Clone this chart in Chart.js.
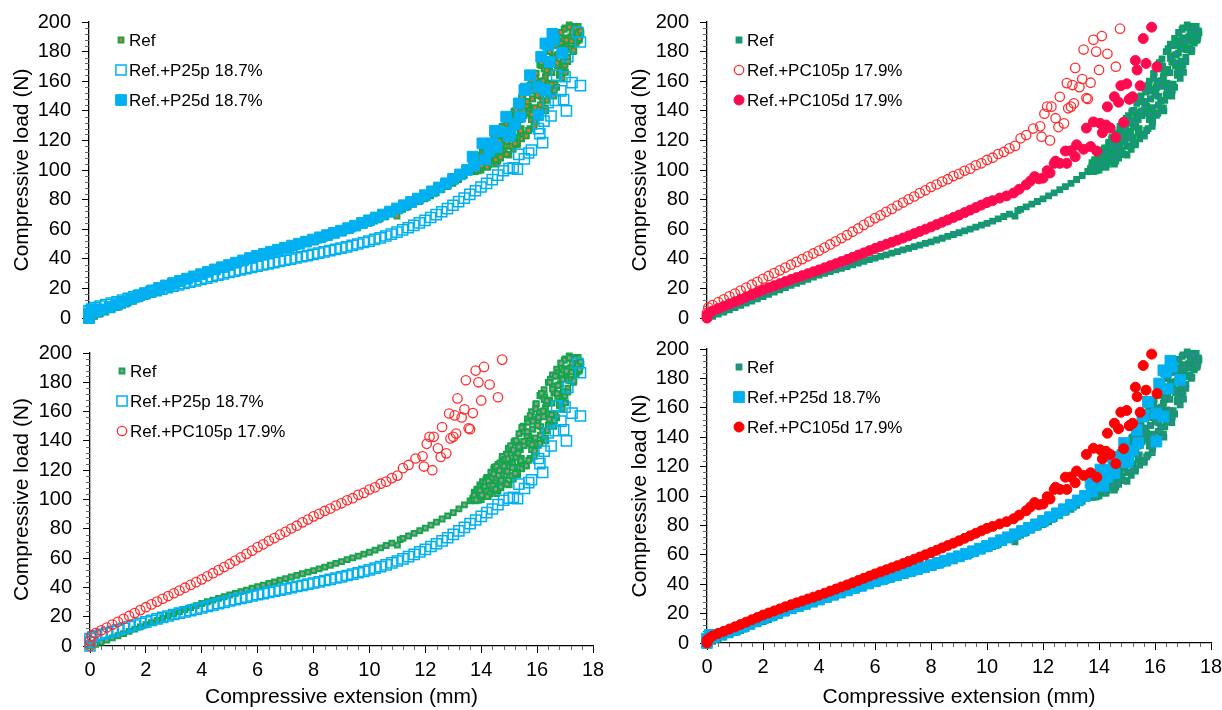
<!DOCTYPE html>
<html lang="en">
<head>
<meta charset="UTF-8">
<meta name="viewport" content="width=device-width, initial-scale=1.0">
<title>Compressive load vs compressive extension</title>
<style>
  body { margin: 0; background: #fff; }
  #figure { position: relative; width: 1222px; height: 710px; overflow: hidden; }
  #figure canvas { position: absolute; }
</style>
</head>
<body>
<div id="figure">
  <canvas id="panelTL" width="611" height="330" style="left:0;top:0"></canvas>
  <canvas id="panelTR" width="604" height="330" style="left:618px;top:0"></canvas>
  <canvas id="panelBL" width="611" height="380" style="left:0;top:330px"></canvas>
  <canvas id="panelBR" width="604" height="380" style="left:618px;top:330px"></canvas>
</div>

<script src="https://cdn.jsdelivr.net/npm/chart.js@4.4.1/dist/chart.umd.min.js"></script>
<script>
// axis text and ticks
const xTitle = 'Compressive extension (mm)';
const yTitle = 'Compressive load (N)';
const xTicks = [0, 2, 4, 6, 8, 10, 12, 14, 16, 18];
const yTicks = [0, 20, 40, 60, 80, 100, 120, 140, 160, 180, 200];
const xMinorStep = 0.4;
const yMinorStep = 4;

// series names
const refName = 'Ref';
const p25pName = 'Ref.+P25p 18.7%';
const p25dName = 'Ref.+P25d 18.7%';
const pc105pName = 'Ref.+PC105p 17.9%';
const pc105dName = 'Ref.+PC105d 17.9%';

// [extension mm, load N]
const refPts = [
  [0,0],[0.2,1.2],[0.4,2.6],[0.6,4],[0.8,5.5],[1,7],[1.2,8.5],[1.4,10],[1.6,11.5],[1.8,13],[2,14.5],
  [2.2,16],[2.4,17.5],[2.6,19],[2.8,20.5],[3,22],[3.2,23.4],[3.4,24.8],[3.6,26.2],[3.8,27.6],[4,29],
  [4.2,30.2],[4.4,31.3],[4.6,32.5],[4.8,33.6],[5,34.8],[5.2,35.9],[5.4,37.1],[5.6,38.2],[5.8,39.4],[6,40.5],
  [6.2,41.6],[6.4,42.7],[6.6,43.8],[6.8,44.9],[7,46],[7.2,47.1],[7.4,48.2],[7.6,49.3],[7.8,50.4],[8,51.5],
  [8.2,52.7],[8.4,53.9],[8.6,55.1],[8.8,56.4],[9,57.6],[9.2,58.9],[9.4,60.1],[9.6,61.4],[9.8,62.7],[10,64],
  [10.2,65.5],[10.4,67],[10.6,68.6],[10.8,70.2],[11,68.8],[11.1,72.6],[11.2,73.4],[11.4,75.1],[11.6,76.9],
  [11.8,78.7],[12,80.5],[12.2,82.5],[12.4,84.6],[12.6,86.7],[12.8,88.8],[13,91],[13.2,93.6],[13.4,96.3],[13.6,99],
  [13.7,101],[13.75,105],[13.8,99],[13.85,107],[13.9,102],[13.95,110],[14,100],[14.05,112],[14.1,104],[14.15,108],
  [14.2,115],[14.25,102],[14.3,111],[14.35,118],[14.4,106],[14.45,121],[14.5,112],[14.55,104],[14.6,124],[14.65,116],
  [14.7,108],[14.75,127],[14.8,119],[14.85,111],[14.9,131],[14.95,122],[15,110],[15.05,135],[15.1,126],[15.15,114],
  [15.2,140],[15.25,129],[15.3,117],[15.35,145],[15.4,134],[15.45,121],[15.5,150],[15.55,138],[15.6,124],[15.65,155],
  [15.7,143],[15.75,128],[15.8,160],[15.85,148],[15.9,132],[15.95,165],[16,152],[16.05,137],[16.1,171],[16.15,158],
  [16.2,142],[16.25,175],[16.3,163],[16.35,147],[16.4,180],[16.45,168],[16.5,152],[16.55,185],[16.6,173],[16.65,158],
  [16.7,189],[16.75,178],[16.8,164],[16.85,193],[16.9,183],[16.95,170],[17,196],[17.05,187],[17.1,176],[17.15,198],
  [17.2,190],[17.25,182],[17.3,197],[17.35,192],[17.4,188],[17.45,194],[17.5,190],
  [13.7,99.3],[13.735,101.3],[13.77,103.5],[13.8,100.6],[13.835,103.8],[13.87,105.4],[13.9,99.5],[13.935,103],[13.97,109.5],
  [14,101.8],[14.035,106.6],[14.07,109],[14.1,102.4],[14.135,106.4],[14.17,113.8],[14.2,105.8],[14.235,109.5],[14.27,114.8],
  [14.3,103.8],[14.335,113.7],[14.37,114.6],[14.4,107.6],[14.435,109.4],[14.47,122],[14.5,107],[14.535,114.8],[14.57,120.6],
  [14.6,106],[14.635,118.6],[14.67,124.9],[14.7,108.6],[14.735,117.4],[14.77,127.3],[14.8,113.6],[14.835,122.8],[14.87,127.4],
  [14.9,110.5],[14.935,119.1],[14.97,135],[15,115.9],[15.035,126.3],[15.07,131.5],[15.1,116.2],[15.135,124.3],[15.17,139.2],
  [15.2,122],[15.235,129],[15.27,138.8],[15.3,118.5],[15.335,135.9],[15.37,137.3],[15.4,125],[15.435,128],[15.47,149],
  [15.5,124.2],[15.535,136.8],[15.57,146.2],[15.6,123],[15.635,142.8],[15.67,152.7],[15.7,126.7],[15.735,140.3],[15.77,155.6],
  [15.8,134],[15.835,148],[15.87,155],[15.9,129.5],[15.935,142.1],[15.97,165.5],[16,137.6],[16.035,152.4],[16.07,159.8],
  [16.1,138.3],[16.135,149.7],[16.17,170.6],[16.2,146.8],[16.235,156.5],[16.27,170.2],[16.3,142],[16.335,165.4],[16.37,167.3],
  [16.4,150.8],[16.435,154.7],[16.47,182],[16.5,150.4],[16.535,165.8],[16.57,177.3],[16.6,150],[16.635,172.8],[16.67,184.2],
  [16.7,155.8],[16.735,170.4],[16.77,186.9],[16.8,165],[16.835,179],[16.87,186],[16.9,162],[16.935,173.6],[16.97,195],
  [17,170.7],[17.035,183.1],[17.07,189.3],[17.1,173.3],[17.135,181.5],[17.17,196.6],[17.2,181],[17.235,187],[17.27,195.4],
  [17.3,180],[17.335,191.4],[17.37,192.3],[17.4,185.8],[17.435,187.2],[17.47,197],[17.5,187.7],[17.535,190.5],[17.57,192.6],
  [13.717,100.5],[13.752,102.8],[13.817,99.8],[13.852,106.2],[13.917,104.5],[13.952,106],[14.017,103],[14.052,112],
  [14.117,109.1],[14.152,111.8],[14.217,102],[14.252,112.5],[14.317,109.6],[14.352,118.7],[14.417,109.4],[14.452,117.5],
  [14.517,107],[14.552,122.6],[14.617,116.5],[14.652,119.7],[14.717,113],[14.752,129.5],[14.817,122.8],[14.852,127.4],
  [14.917,110.5],[14.952,127.7],[15.017,122.4],[15.052,136.7],[15.117,121.6],[15.152,133.8],[15.217,117.8],[15.252,140.2],
  [15.317,131.5],[15.352,135.9],[15.417,126.5],[15.452,149],[15.517,139.9],[15.552,146.2],[15.617,123],[15.652,146.1],
  [15.717,138.6],[15.752,157.3],[15.817,137.5],[15.852,153.3],[15.917,133.1],[15.952,161.9],[16.017,150.5],[16.052,156],
  [16.117,144],[16.152,172.5],[16.217,160.4],[16.252,168.2],[16.317,140],[16.352,167.3],[16.417,158.6],[16.452,180],
  [16.517,158],[16.552,175.4],[16.617,153.8],[16.652,184.2],[16.717,172.3],[16.752,177.7],[16.817,166.8],[16.852,193],
  [16.917,181.8],[16.952,188.4],[17.017,166],[17.052,187.7],[17.117,181.5],[17.152,196.6],[17.217,182.2],[17.252,193],
  [17.317,180.9],[17.352,196.1],[17.417,190],[17.452,192.1],[17.517,188.8],[17.552,194]
];

const p25pPts = [
  [0,0],[0,2.5],[0,5],[0.1,6],[0.2,7],[0.4,8],[0.6,9],[0.8,10],[1,11],[1.2,12.1],[1.4,13.2],[1.6,14.3],
  [1.8,15.4],[2,16.5],[2.2,17.5],[2.4,18.5],[2.6,19.5],[2.8,20.5],[3,21.5],[3.2,22.4],[3.4,23.3],[3.6,24.2],
  [3.8,25.1],[4,26],[4.2,27],[4.4,27.9],[4.6,28.9],[4.8,29.8],[5,30.8],[5.2,31.6],[5.4,32.5],[5.6,33.3],
  [5.8,34.2],[6,35],[6.2,35.8],[6.4,36.6],[6.6,37.4],[6.8,38.2],[7,39],[7.2,39.8],[7.4,40.6],[7.6,41.4],
  [7.8,42.2],[8,43],[8.2,43.8],[8.4,44.7],[8.6,45.5],[8.8,46.4],[9,47.2],[9.2,48.1],[9.4,49.1],[9.6,50],
  [9.8,51],[10,52],[10.2,53.1],[10.4,54.2],[10.6,55.4],[10.8,56.7],[11,58],[11.2,59.5],[11.4,61],[11.6,62.6],
  [11.8,64.3],[12,66],[12.2,67.9],[12.4,69.8],[12.6,71.8],[12.8,73.9],[13,76.2],[13.2,78.6],[13.4,81],
  [13.6,83.5],[13.8,86],[14,88.5],[14.2,91],[14.4,93.5],[14.6,96.5],[14.8,99.5],[15,101],[15.15,101.5],
  [15.3,100.5],[15.35,110.5],[15.55,107.5],[15.7,111.5],[15.8,113.5],[16.05,128],[16.1,124.5],[16.2,118.5],
  [16.25,133],[16.4,145.5],[16.5,136.5],[16.65,147],[16.7,164],[16.85,153.5],[16.95,147.5],[17,163],
  [17.05,140],[17.1,176.5],[17.25,159],[17.55,157],[17.45,193],[17.55,186.5]
];

const p25dPts = [
  [0,0],[0,3],[0.1,5.5],[0.25,4.2],[0.5,5.8],[0.75,7.4],[1,9],[1.25,11],[1.5,13],[1.75,15],[2,16.8],
  [2.25,18.6],[2.5,20.3],[2.75,22],[3,23.6],[3.25,25.1],[3.5,26.6],[3.75,28.1],[4,29.6],[4.25,31.2],
  [4.5,32.8],[4.75,34.3],[5,35.8],[5.25,37.4],[5.5,38.9],[5.75,40.5],[6,42],[6.25,43.4],[6.5,44.8],
  [6.75,46.1],[7,47.5],[7.25,48.9],[7.5,50.2],[7.75,51.6],[8,53],[8.25,54.5],[8.5,56],[8.75,57.5],[9,59],
  [9.25,60.7],[9.5,62.4],[9.75,64.2],[10,66],[10.25,67.9],[10.5,69.9],[10.75,71.9],[11,74],[11.25,76.2],
  [11.5,78.4],[11.75,80.7],[12,83],[12.25,85.6],[12.5,88.2],[12.75,91],[13,94],[13.25,97],[13.5,100],
  [13.7,109],[13.75,103],[14.05,118],[14.15,107],[14.3,113],[14.4,118],[14.5,126.5],[14.55,115.5],
  [14.65,126],[14.9,136],[15,123],[15.05,125],[15.2,131],[15.35,145],[15.4,136],[15.55,154],[15.6,155],
  [15.75,164],[16.05,137],[16.05,156],[16.15,176.5],[16.3,154],[16.3,185.5],[16.4,184.5],[16.45,173],
  [16.55,192],[16.6,188],[16.9,179]
];

const pc105pPts = [
  [0,0],[0,3.5],[0.05,7],[0.2,8.8],[0.4,10.7],[0.6,12.6],[0.8,14.6],[1,16.5],[1.2,18.5],[1.4,20.5],
  [1.6,22.5],[1.8,24.5],[2,26.5],[2.2,28.4],[2.4,30.3],[2.6,32.2],[2.8,34.1],[3,36],[3.2,37.9],[3.4,39.8],
  [3.6,41.7],[3.8,43.6],[4,45.5],[4.2,47.6],[4.4,49.7],[4.6,51.8],[4.8,53.9],[5,56],[5.2,58.3],[5.4,60.5],
  [5.6,62.9],[5.8,65.1],[6,67.5],[6.2,69.4],[6.4,71.8],[6.6,73.7],[6.8,76],[7,78],[7.2,80.2],[7.4,82.1],
  [7.6,84.4],[7.8,86.3],[8,88.5],[8.2,90.2],[8.4,92.2],[8.6,93.8],[8.8,95.9],[9,97.4],[9.2,99.5],[9.4,100.9],
  [9.6,103.2],[9.8,104.5],[10,106.8],[10.2,108.3],[10.4,110.8],[10.6,112.2],[10.8,114.6],[11,116.3],
  [11.2,121.4],[11.4,123.6],[11.65,128],[11.9,129.5],[11.95,122.5],[12.05,138],[12.15,142.8],[12.25,120],
  [12.3,142.8],[12.45,135],[12.55,129],[12.6,149.5],[12.75,131.5],[12.85,158.7],[12.9,141.7],[13,142.8],
  [13.05,157.4],[13.1,145],[13.15,169],[13.3,156],[13.4,161.5],[13.45,181.4],[13.55,148.6],[13.6,148],
  [13.7,159],[13.8,188],[13.9,180],[14,167.6],[14.1,190.5],[14.3,178.5],[14.6,169.8],[14.75,195.5]
];

const pc105dPts = [
  [0,0],[0,2],[0.1,3.5],[0.2,4.8],[0.4,6.5],[0.6,8],[0.8,9.5],[1,11],[1.2,12.6],[1.4,14.2],[1.6,15.8],
  [1.8,17.4],[2,19],[2.2,20.4],[2.4,21.8],[2.6,23.2],[2.8,24.6],[3,26],[3.2,27.3],[3.4,28.6],[3.6,29.9],
  [3.8,31.2],[4,32.5],[4.2,33.9],[4.4,35.3],[4.6,36.7],[4.8,38.1],[5,39.5],[5.2,41],[5.4,42.5],[5.6,44],
  [5.8,45.5],[6,47],[6.2,48.4],[6.4,49.8],[6.6,51.2],[6.8,52.6],[7,54],[7.2,55.5],[7.4,57],[7.6,58.5],
  [7.8,60],[8,61.5],[8.2,63.1],[8.4,64.7],[8.6,66.3],[8.8,67.9],[9,69.5],[9.2,71.2],[9.4,72.9],[9.6,74.6],
  [9.8,76.3],[10,78],[10.2,79.3],[10.45,81],[10.7,82.5],[10.95,84.5],[11.15,87],[11.4,90],[11.55,92.5],
  [11.7,95.5],[11.85,94],[12,94.5],[12.15,99.5],[12.25,98],[12.4,104.5],[12.45,106],[12.6,104.5],
  [12.8,112.8],[12.85,104.5],[13,113],[13.15,109],[13.2,117],[13.45,114],[13.55,128.3],[13.7,115.8],
  [13.8,132.5],[13.92,112.8],[14.04,131.5],[14.12,125.2],[14.25,130.4],[14.3,142.7],[14.4,128.3],
  [14.55,149.5],[14.6,122],[14.7,145.8],[14.78,157],[14.88,132.2],[14.99,158.2],[15.08,147.8],[15.1,148],
  [15.2,149.5],[15.3,174],[15.36,167.6],[15.47,156.9],[15.58,188.8],[15.68,172],[15.88,196.5],[16.07,169.7]
];

Chart.defaults.font.family = "'Liberation Sans', Arial, sans-serif";
Chart.defaults.color = '#000';

function xy(pts) {
  return pts.map(p => ({ x: p[0], y: p[1] }));
}

// one scatter series; order: higher = drawn further back
function series(label, pts, style, order) {
  return {
    label: label,
    data: xy(pts),
    pointStyle: style.shape,
    pointRadius: style.r,
    pointHoverRadius: style.r,
    pointBorderWidth: style.bw,
    pointBorderColor: style.line,
    pointBackgroundColor: style.fill,
    order: order,
    clip: false
  };
}

const hollow = 'rgba(0,0,0,0)';
const refStyle = (line, fill) => ({ shape: 'rect', r: 3.4, bw: 2, line: line, fill: fill });
const p25pStyle = { shape: 'rect', r: 7.2, bw: 1.5, line: '#00B0F0', fill: hollow };
const p25dStyle = { shape: 'rect', r: 7.6, bw: 1, line: '#00B0F0', fill: '#00B0F0' };
const pc105pStyle = { shape: 'circle', r: 4.7, bw: 1.3, line: '#FF2D2D', fill: hollow };
const pc105dStyleA = { shape: 'circle', r: 5, bw: 1, line: '#FF0A4E', fill: '#FF0A4E' };
const pc105dStyleB = { shape: 'circle', r: 5, bw: 1, line: '#FF0000', fill: '#FF0000' };

// short ticks between the labelled ones
const minorTicks = {
  id: 'minorTicks',
  beforeDatasetsDraw(chart) {
    const { ctx } = chart;
    const x = chart.scales.x, y = chart.scales.y;
    ctx.save();
    ctx.strokeStyle = '#666';
    ctx.lineWidth = 1;
    ctx.beginPath();
    for (let k = 1; k * yMinorStep < 200; k++) {
      const v = k * yMinorStep;
      if (yTicks.some(t => Math.abs(t - v) < 1e-6)) continue;
      const py = Math.round(y.getPixelForValue(v)) + 0.5;
      ctx.moveTo(y.right - 4, py);
      ctx.lineTo(y.right, py);
    }
    if (x.options.display) {
      for (let k = 1; k * xMinorStep < 18 - 1e-6; k++) {
        const v = k * xMinorStep;
        if (xTicks.some(t => Math.abs(t - v) < 1e-6)) continue;
        const px = Math.round(x.getPixelForValue(v)) + 0.5;
        ctx.moveTo(px, x.top);
        ctx.lineTo(px, x.top + 4);
      }
    }
    ctx.stroke();
    ctx.restore();
  }
};

// legend drawn inside the plot, one row per series
const insetLegend = {
  id: 'insetLegend',
  afterDatasetsDraw(chart) {
    const { ctx, chartArea } = chart;
    ctx.save();
    chart.data.datasets.forEach((ds, i) => {
      const cx = chartArea.left + 32;
      const cy = chartArea.top + 18 + 30 * i;
      ctx.fillStyle = ds.pointBackgroundColor;
      ctx.strokeStyle = ds.pointBorderColor;
      ctx.lineWidth = ds.pointBorderWidth;
      Chart.helpers.drawPoint(ctx, {
        pointStyle: ds.pointStyle, radius: ds.pointRadius,
        borderWidth: ds.pointBorderWidth, rotation: 0
      }, cx, cy);
      ctx.fillStyle = '#000';
      ctx.font = "17px 'Liberation Sans', Arial, sans-serif";
      ctx.textBaseline = 'middle';
      ctx.textAlign = 'left';
      ctx.fillText(ds.label, chartArea.left + 40, cy + 1);
    });
    ctx.restore();
  }
};

function makePanel(id, datasets, box) {
  return new Chart(document.getElementById(id), {
    type: 'scatter',
    data: { datasets: datasets },
    options: {
      responsive: false,
      animation: false,
      events: [],
      layout: { autoPadding: false, padding: { left: 0, top: box.top, right: box.right, bottom: box.bottom } },
      plugins: { legend: { display: false }, tooltip: { enabled: false } },
      scales: {
        x: {
          type: 'linear',
          display: box.showX,
          min: 0,
          max: 18,
          afterBuildTicks: s => { s.ticks = xTicks.map(v => ({ value: v })); },
          afterFit: s => { s.height = box.xh; s.paddingLeft = 0; s.paddingRight = 0; },
          ticks: { font: { size: 20 }, color: '#000', padding: 5, autoSkip: false, maxRotation: 0 },
          grid: { drawOnChartArea: false, drawTicks: true, tickLength: 7, tickColor: '#000', tickWidth: 1 },
          border: { color: '#000', width: 1.3 },
          title: { display: true, text: xTitle, color: '#000', font: { size: 21 }, padding: { top: 0, bottom: 0 } }
        },
        y: {
          type: 'linear',
          min: 0,
          max: 200,
          afterBuildTicks: s => { s.ticks = yTicks.map(v => ({ value: v })); },
          afterFit: s => { s.width = box.yw; s.paddingTop = 0; s.paddingBottom = 0; },
          ticks: { font: { size: 20 }, color: '#000', padding: 11, autoSkip: false },
          grid: { drawOnChartArea: false, drawTicks: true, tickLength: 7, tickColor: '#000', tickWidth: 1 },
          border: { color: '#000', width: 1.3 },
          title: { display: true, text: yTitle, color: '#000', font: { size: 21 }, padding: { top: 9.4, bottom: 0 } }
        }
      }
    },
    plugins: [minorTicks, insetLegend]
  });
}

makePanel('panelTL', [
  series(refName, refPts, refStyle('#1CA34A', '#E8742E'), 3),
  series(p25pName, p25pPts, p25pStyle, 2),
  series(p25dName, p25dPts, p25dStyle, 1)
], { top: 22, right: 18, bottom: 12, yw: 89, showX: false, xh: 0 });

makePanel('panelTR', [
  series(refName, refPts, refStyle('#0AA060', '#3E78B5'), 3),
  series(pc105pName, pc105pPts, pc105pStyle, 2),
  series(pc105dName, pc105dPts, pc105dStyleA, 1)
], { top: 22, right: 11, bottom: 12, yw: 89, showX: false, xh: 0 });

makePanel('panelBL', [
  series(refName, refPts, refStyle('#13A64B', '#9A9A9A'), 3),
  series(p25pName, p25pPts, p25pStyle, 2),
  series(pc105pName, pc105pPts, pc105pStyle, 1)
], { top: 23, right: 18, bottom: 0, yw: 90, showX: true, xh: 64 });

makePanel('panelBR', [
  series(refName, refPts, refStyle('#119B6A', '#4C7AA8'), 3),
  series(p25dName, p25dPts, p25dStyle, 2),
  series(pc105dName, pc105dPts, pc105dStyleB, 1)
], { top: 19, right: 11, bottom: 0, yw: 89, showX: true, xh: 67 });
</script>
</body>
</html>
